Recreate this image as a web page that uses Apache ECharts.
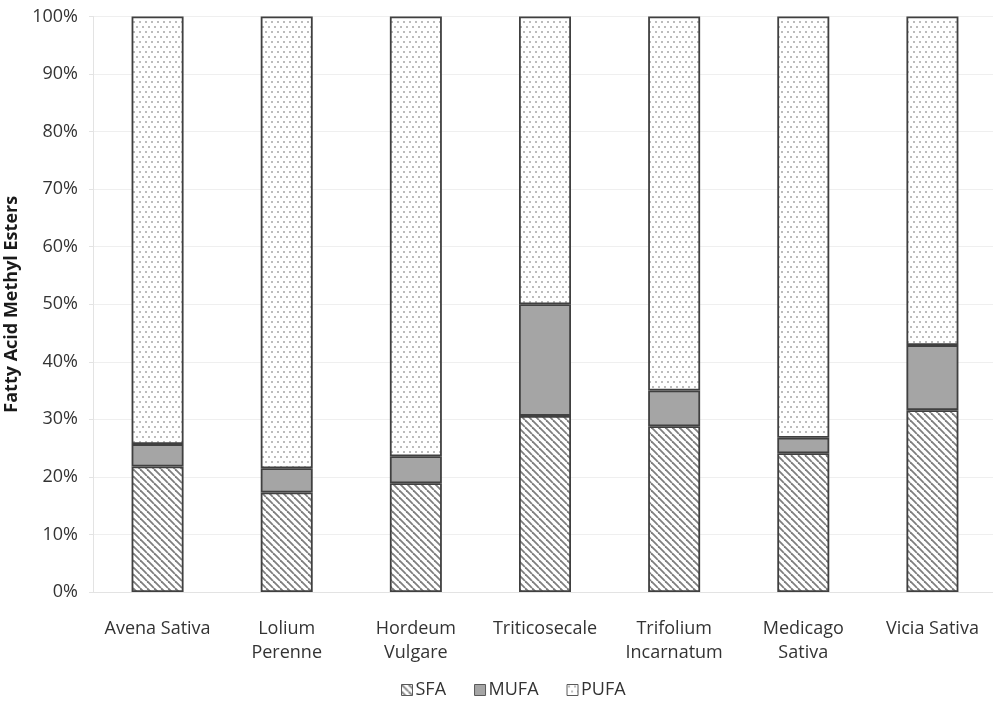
<!DOCTYPE html>
<html>
<head>
<meta charset="utf-8">
<title>Fatty Acid Methyl Esters</title>
<script src="https://cdn.jsdelivr.net/npm/echarts@6/dist/echarts.min.js"></script>
<style>
  html, body { margin: 0; padding: 0; background: #ffffff; }
  #chart { width: 993px; height: 701px; }
</style>
</head>
<body>
<div id="chart"></div>
<script>
// Forage species on the category axis
const categories = ['Avena Sativa', 'Lolium\nPerenne', 'Hordeum\nVulgare', 'Triticosecale',
                    'Trifolium\nIncarnatum', 'Medicago\nSativa', 'Vicia Sativa'];

// Share of each fatty acid class, in percent of total methyl esters
const sfa  = [21.8, 17.3, 18.9, 30.6, 28.8, 24.1, 31.6];
const mufa = [3.9, 4.2, 4.7, 19.4, 6.2, 2.7, 11.3];
const pufa = [74.3, 78.5, 76.4, 50.0, 65.0, 73.2, 57.1];

const yTicks = { min: 0, max: 100, interval: 10 };

// Diagonal hatch fill for SFA
function hatchPattern() {
  const s = 7;
  const c = document.createElement('canvas');
  c.width = s; c.height = s;
  const ctx = c.getContext('2d');
  ctx.fillStyle = '#ffffff';
  ctx.fillRect(0, 0, s, s);
  ctx.strokeStyle = '#7e7e7e';
  ctx.lineWidth = 1.8;
  for (const x0 of [-s, 0, s]) {
    ctx.beginPath();
    ctx.moveTo(x0, 0);
    ctx.lineTo(x0 + s, s);
    ctx.stroke();
  }
  return { image: c, repeat: 'repeat' };
}

// Staggered dot fill for PUFA
function dotPattern() {
  const c = document.createElement('canvas');
  c.width = 6; c.height = 10;
  const ctx = c.getContext('2d');
  ctx.fillStyle = '#ffffff';
  ctx.fillRect(0, 0, 6, 10);
  ctx.fillStyle = '#bcbcbc';
  ctx.fillRect(1, 1, 2, 2);
  ctx.fillRect(4, 6, 2, 2);
  return { image: c, repeat: 'repeat' };
}

const font = '"Open Sans", "Liberation Sans", sans-serif';
const border = { borderColor: '#404040', borderWidth: 1.8 };

function makeSeries(name, data, fill) {
  return {
    name: name,
    type: 'bar',
    stack: 'fame',
    barWidth: 52,
    data: data,
    itemStyle: Object.assign({ color: fill }, border),
    emphasis: { disabled: true }
  };
}

const chart = echarts.init(document.getElementById('chart'), null, { renderer: 'canvas' });
chart.setOption({
  animation: false,
  backgroundColor: '#ffffff',
  grid: {
    left: 93, top: 16.5, width: 904, height: 575.5,
    containLabel: false,
    outerBoundsMode: 'none'
  },
  legend: {
    bottom: -3,
    left: 396,
    icon: 'rect',
    itemWidth: 11,
    itemHeight: 11,
    itemGap: 28,
    textStyle: { fontFamily: font, fontSize: 18, color: '#333333', padding: [0, 0, 0, -2] },
    itemStyle: { borderColor: '#595959', borderWidth: 1 },
    data: ['SFA', 'MUFA', 'PUFA']
  },
  xAxis: {
    type: 'category',
    data: categories,
    axisLine: { show: true, lineStyle: { color: '#e3e3e3', width: 1 } },
    axisTick: { show: false },
    axisLabel: {
      interval: 0,
      fontFamily: font,
      fontSize: 18,
      color: '#333333',
      lineHeight: 24,
      margin: 25
    }
  },
  yAxis: {
    type: 'value',
    min: yTicks.min,
    max: yTicks.max,
    interval: yTicks.interval,
    name: 'Fatty Acid Methyl Esters',
    nameLocation: 'middle',
    nameGap: 61,
    nameTextStyle: { fontFamily: font, fontSize: 18, fontWeight: 'bold', color: '#1a1a1a' },
    axisLine: { show: true, lineStyle: { color: '#e3e3e3', width: 1 } },
    axisTick: { show: true, length: 4, lineStyle: { color: '#e3e3e3' } },
    axisLabel: {
      formatter: '{value}%',
      fontFamily: font,
      fontSize: 18,
      color: '#333333',
      margin: 15
    },
    splitLine: { lineStyle: { color: '#efefef', width: 1 } }
  },
  series: [
    makeSeries('SFA', sfa, hatchPattern()),
    makeSeries('MUFA', mufa, '#a5a5a5'),
    makeSeries('PUFA', pufa, dotPattern())
  ]
});
</script>
</body>
</html>
